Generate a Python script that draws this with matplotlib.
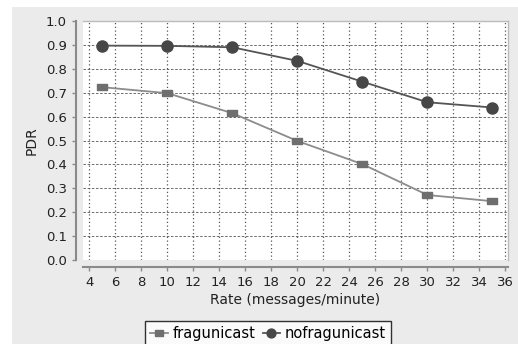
import matplotlib.pyplot as plt
from matplotlib.patches import Rectangle

# === Dados ===
rate = [5, 10, 15, 20, 25, 30, 35]
fragunicast = [0.723, 0.698, 0.614, 0.498, 0.401, 0.272, 0.246]
nofragunicast = [0.897, 0.896, 0.890, 0.833, 0.746, 0.660, 0.638]

fig = plt.figure(figsize=(5.18, 3.44), dpi=100)
fig.patch.set_facecolor("white")
# painel cinza do grafico
fig.patches.append(Rectangle((12 / 518, 0), 1, 1 - 7 / 344, transform=fig.transFigure,
                             facecolor="#ebebeb", edgecolor="none", zorder=-10))

ax = fig.add_axes([83 / 518, 1 - 260 / 344, 425 / 518, 239 / 344])
ax.set_facecolor("white")

rect = [(-1, -0.7), (1, -0.7), (1, 0.7), (-1, 0.7), (-1, -0.7)]
ax.plot(rate, fragunicast, color="#8c8c8c", lw=1.3, marker=rect, markersize=6.5,
        markerfacecolor="#6e6e6e", markeredgecolor="#6e6e6e", label="fragunicast", zorder=3)
ax.plot(rate, nofragunicast, color="#555555", lw=1.3, marker="o", markersize=8,
        markerfacecolor="#474747", markeredgecolor="#474747", label="nofragunicast", zorder=3)

ax.set_xlim(3.5, 36.2)
ax.set_ylim(0, 1.0)
ax.set_xticks(range(4, 37, 2))
ax.set_yticks([i / 10 for i in range(11)])
ax.set_yticklabels([f"{i / 10:.1f}" for i in range(11)])

ax.xaxis.grid(True, color="#555555", linestyle=(0, (1, 2)), linewidth=0.9)
ax.yaxis.grid(True, color="#555555", linestyle=(0, (3, 2)), linewidth=0.6)
ax.set_axisbelow(True)

for s in ["top", "right"]:
    ax.spines[s].set_color("#bbbbbb")
    ax.spines[s].set_linewidth(1.0)
for s in ["left", "bottom"]:
    ax.spines[s].set_position(("outward", 5))
    ax.spines[s].set_color("#8a8a8a")
    ax.spines[s].set_linewidth(1.5)

ax.tick_params(axis="both", labelsize=9.5, color="#8a8a8a", length=3, width=1,
               labelcolor="#222222")
ax.set_ylabel("PDR", fontsize=10, color="#222222", labelpad=5)
ax.set_xlabel("Rate (messages/minute)", fontsize=10, color="#222222", labelpad=3)

leg = ax.legend(loc="upper center", bbox_to_anchor=(268 / 518, 23 / 344),
                bbox_transform=fig.transFigure, ncol=2, fontsize=10.5, frameon=True,
                fancybox=False, handlelength=1.2, handletextpad=0.3, columnspacing=0.5,
                borderpad=0.35, borderaxespad=0, markerscale=0.8)
leg.get_frame().set_edgecolor("black")
leg.get_frame().set_linewidth(1.0)

plt.savefig("out.png", dpi=100, facecolor=fig.get_facecolor())
